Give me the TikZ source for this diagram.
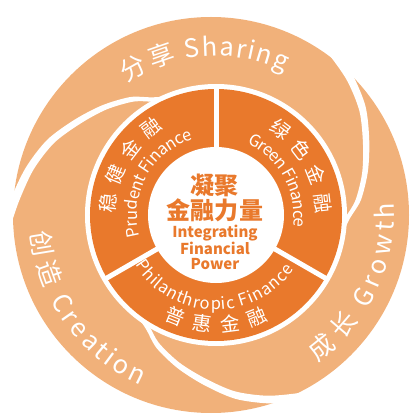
\documentclass[tikz,border=0pt]{standalone}
\usepackage{fontspec}
\newfontfamily\cjk{Noto Sans CJK SC}
\usetikzlibrary{decorations.text}

\definecolor{ringorange}{RGB}{233,121,44}
\definecolor{bandorange}{RGB}{241,177,122}

% white spiral gap between two swirl bands, #1 = angle where it leaves the rim
\newcommand{\swirlgap}[1]{%
  \fill[white] plot[smooth] coordinates {({#1+8}:217) ({#1}:206.5) ({#1-10}:196) ({#1-20}:184.8) ({#1-30}:170.5) ({#1-40}:158) ({#1-50}:145.8) ({#1-57}:134.5) ({#1-62}:129.5)}
    -- plot[smooth] coordinates {({#1-62}:124.5) ({#1-57}:129.5) ({#1-50}:140.2) ({#1-40}:152) ({#1-30}:163.5) ({#1-20}:177.2) ({#1-10}:188) ({#1}:197.5) ({#1+8}:207)} -- cycle;}

\tikzset{
  bandfont/.style={font=\cjk\fontsize{25.5}{25.5}\selectfont},
  ringcnfont/.style={font=\cjk\fontsize{19.5}{19.5}\selectfont},
  ringenfont/.style={font=\cjk\fontsize{16.5}{16.5}\selectfont},
  arctext/.style 2 args={decoration={text effects along path, text={#2},
      text effects/.cd, text along path, fit text to path, characters={text=white, #1}}, decorate},
  divider/.style={white, line width=5pt},
}

\begin{document}
\begin{tikzpicture}[x=1pt, y=1pt]
\useasboundingbox (-216,-202) rectangle (195,215);

% Drawing outer swirl
\fill[bandorange] (-5,0) circle[radius=198];
\swirlgap{56}
\swirlgap{-64}
\swirlgap{176}

% Drawing ring
\fill[white] (0,0) circle[radius=131];
\fill[ringorange] (0,0) circle[radius=126];
\fill[white] (0,0) circle[radius=68];
\draw[divider] (90:66) -- (90:129);
\draw[divider] (210:66) -- (210:129);
\draw[divider] (330:66) -- (330:129);

% Marking band texts
\path[arctext={bandfont}{分享 Sharing}] (124:159) arc[start angle=124, end angle=64.5, radius=159];
\path[arctext={bandfont}{成长 Growth}] (-55.5:178) arc[start angle=-55.5, end angle=4, radius=178];
\path[arctext={bandfont}{创造 Creation}] (185.4:186) arc[start angle=185.4, end angle=246.2, radius=186];

% Marking ring texts
\path[arctext={ringcnfont}{稳健金融}] (179.4:101) arc[start angle=179.4, end angle=121.1, radius=101];
\path[arctext={ringcnfont}{绿色金融}] (58.5:100) arc[start angle=58.5, end angle=0.9, radius=100];
\path[arctext={ringcnfont}{普惠金融}] (243.3:117) arc[start angle=243.3, end angle=296.7, radius=117];
\path[arctext={ringenfont}{Prudent Finance}] (195.6:79) arc[start angle=195.6, end angle=106.8, radius=79];
\path[arctext={ringenfont}{Green Finance}] (66.6:78) arc[start angle=66.6, end angle=-8.8, radius=78];
\path[arctext={ringenfont}{Philanthropic Finance}] (211.7:95) arc[start angle=211.7, end angle=325.3, radius=95];

% Marking hub texts
\node (hubcn) at (-1,17.5) [ringorange, align=center, inner sep=0pt,
  font=\cjk\bfseries\fontsize{24}{25}\selectfont] {凝聚\\金融力量};
\node (hubeng) at (-1,-32) [ringorange, align=center, inner sep=0pt,
  font=\cjk\bfseries\fontsize{15}{15}\selectfont] {Integrating\\Financial\\Power};
\end{tikzpicture}
\end{document}
